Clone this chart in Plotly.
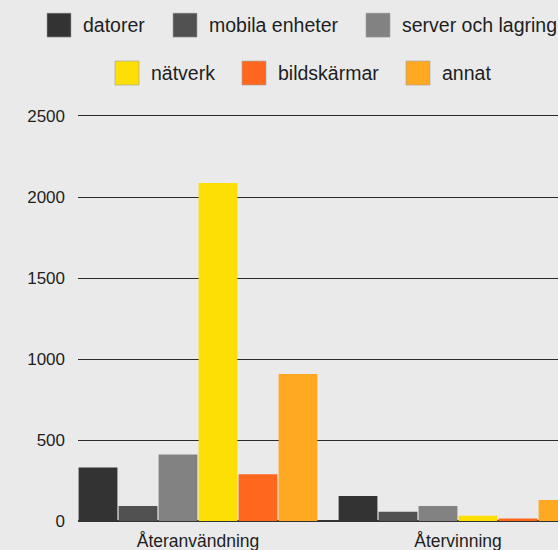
import plotly.graph_objects as go

# Data: quantities by processing route and equipment type
categories = ["Återanvändning", "Återvinning"]
series_names = ["datorer", "mobila enheter", "server och lagring",
                "nätverk", "bildskärmar", "annat"]
datorer = [331, 154]
mobila_enheter = [93, 57]
server_och_lagring = [410, 93]
natverk = [2086, 32]
bildskarmar = [288, 16]
annat = [907, 130]
y_ticks = [0, 500, 1000, 1500, 2000, 2500]

series_values = [datorer, mobila_enheter, server_och_lagring,
                 natverk, bildskarmar, annat]
colors = ["#333333", "#515151", "#828282", "#FDDE05", "#FF671F", "#FEA921"]

BG = "#EAEAEA"
FONT = "Liberation Sans, Arial, sans-serif"
TEXT = "#1e1e1e"

W, H = 558, 550
ML, MR, MT, MB = 78, 0, 111, 28.5
TOP_PAD = 5  # px of empty plot area above the 2500 gridline

fig = go.Figure()
for name, vals, col in zip(series_names, series_values, colors):
    fig.add_trace(go.Bar(
        x=categories, y=vals, name=name,
        marker=dict(color=col, line=dict(width=0)),
        showlegend=False,
    ))

# Legend drawn as swatches + labels in two centred rows
plot_w = W - ML - MR
plot_h = H - MT - MB


def px_x(px):
    return (px - ML) / plot_w


def px_y(py):
    return (H - MB - py) / plot_h


legend_rows = [
    (25, [(47, 0), (173, 1), (366, 2)]),
    (73, [(115, 3), (242, 4), (406, 5)]),
]
for cy, items in legend_rows:
    for sx, idx in items:
        fig.add_shape(
            type="rect", xref="paper", yref="paper",
            x0=px_x(sx), x1=px_x(sx + 24),
            y0=px_y(cy - 12), y1=px_y(cy + 12),
            fillcolor=colors[idx],
            line=dict(color="rgba(160,160,160,0.6)", width=1),
        )
        fig.add_annotation(
            xref="paper", yref="paper",
            x=px_x(sx + 34), y=px_y(cy),
            xanchor="left", yanchor="middle",
            text=series_names[idx], showarrow=False,
            font=dict(family=FONT, size=19.5, color=TEXT),
        )

# y range padded so the top gridline at 2500 is kept inside the plot
y_top = 2500 * plot_h / (plot_h - TOP_PAD)

fig.update_layout(
    width=W, height=H,
    margin=dict(l=ML, r=MR, t=MT, b=MB, pad=0),
    paper_bgcolor=BG, plot_bgcolor=BG,
    barmode="group", bargap=0.077, bargroupgap=0.03,
    font=dict(family=FONT, size=17.5, color=TEXT),
    xaxis=dict(
        type="category",
        range=[-120 / 260, -120 / 260 + plot_w / 260],
        showgrid=False, zeroline=False, showline=False,
        ticks="", ticklabelstandoff=7,
        tickfont=dict(size=17.5, color=TEXT),
    ),
    yaxis=dict(
        range=[0, y_top], tickvals=y_ticks,
        showgrid=True, gridcolor="#2a2a2a", gridwidth=1,
        zeroline=True, zerolinecolor="#333333", zerolinewidth=2,
        showline=False, ticks="", ticklabelstandoff=12,
        tickfont=dict(size=17, color=TEXT),
    ),
)

fig.write_html("out.html")
